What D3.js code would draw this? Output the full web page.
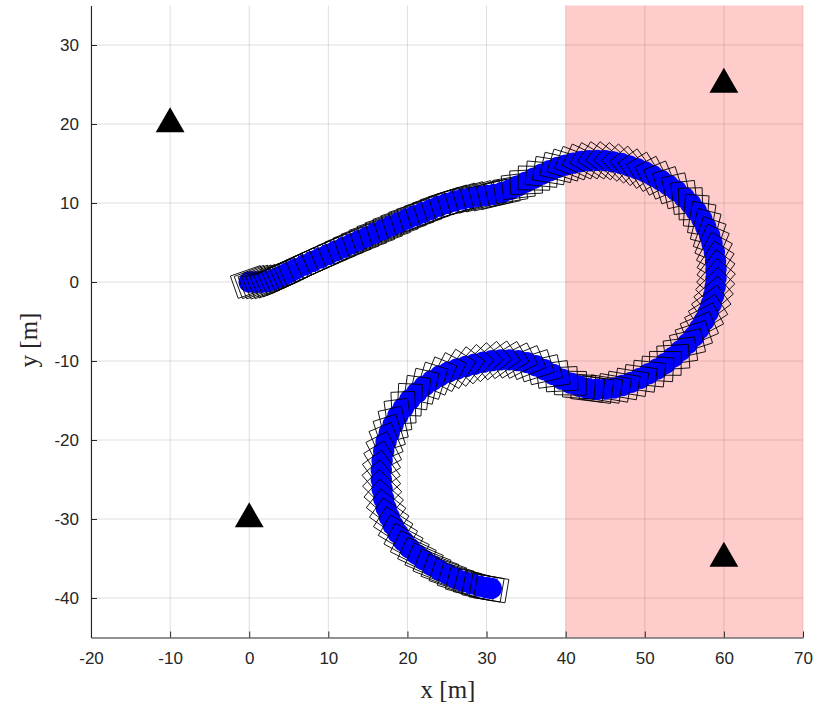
<!DOCTYPE html>
<html>
<head>
<meta charset="utf-8">
<script src="https://cdn.jsdelivr.net/npm/d3@7"></script>
<style>
  body { margin: 0; background: #fff; }
  svg { display: block; }
</style>
</head>
<body>
<div id="chart"></div>
<script>
// trajectory samples [x (m), y (m)]
var pathX = [0,0.5,1,1.5,2,2.5,3,3.5,4,4.5,5,5.5,6,7,8,9,10,11,12,13,14,15,16,17,18,19,20,21,22,23,24,25,26,27,28,29,30,31,32,33,34,35,36,37,38,39,40,41,42,43,44,45,46,47,48,49,50,51,52,53,54,55,55.8,56.5,57.2,57.7,58.2,58.5,58.8,58.95,59,59,58.9,58.7,58.4,58,57.5,56.9,56.2,55.4,54.5,53.6,52.6,51.6,50.5,49.4,48.3,47.2,46.1,45,43.9,42.8,41.7,40.6,39.5,38.4,37.3,36.2,35.1,34,32.9,31.8,30.7,29.6,28.5,27.4,26.3,25.2,24.1,23.1,22.1,21.2,20.3,19.5,18.8,18.2,17.7,17.3,17,16.8,16.7,16.7,16.8,17,17.3,17.7,18.2,18.8,19.5,20.3,21.2,22.1,23.1,24.1,25.1,26.1,27.1,28.1,29.1,30,30.6];
var pathY = [0,0,0,0,0.05,0.15,0.3,0.5,0.7,0.95,1.2,1.45,1.7,2.15,2.6,3.05,3.5,3.95,4.4,4.85,5.3,5.75,6.2,6.65,7.1,7.55,8,8.4,8.8,9.2,9.6,9.95,10.25,10.5,10.7,10.85,10.95,11.1,11.35,11.7,12.15,12.65,13.15,13.65,14.1,14.5,14.8,15.05,15.25,15.35,15.4,15.35,15.2,15,14.7,14.35,13.95,13.45,12.9,12.25,11.55,10.7,9.9,9,8,7,5.9,4.9,3.8,2.7,1.6,0.5,-0.6,-1.7,-2.8,-3.9,-4.9,-5.9,-6.9,-7.8,-8.7,-9.5,-10.3,-11,-11.6,-12.2,-12.7,-13.1,-13.4,-13.55,-13.6,-13.5,-13.2,-12.8,-12.3,-11.7,-11.1,-10.6,-10.2,-9.95,-9.85,-9.85,-9.95,-10.15,-10.4,-10.7,-11,-11.4,-11.9,-12.5,-13.2,-14,-14.9,-15.9,-16.9,-18,-19.1,-20.2,-21.4,-22.6,-23.8,-25,-26.2,-27.4,-28.6,-29.7,-30.8,-31.8,-32.8,-33.7,-34.5,-35.2,-35.9,-36.5,-37,-37.5,-37.9,-38.2,-38.5,-38.7,-38.8];

// landmarks (triangles)
var anchorX = [-10, 0, 60, 60];
var anchorY = [20, -30, 25, -35];

// shaded zone
var zoneX = [40, 70];

var xTicks = [-20,-10,0,10,20,30,40,50,60,70];
var yTicks = [-40,-30,-20,-10,0,10,20,30];

var W = 818, H = 712;
var margin = { left: 91, right: 15, top: 5.5, bottom: 74.5 };
var carLen = 4.0, carWid = 3.0, dotR = 1.35, look = 16;

var svg = d3.select('#chart').append('svg')
    .attr('width', W)
    .attr('height', H);

var x = d3.scaleLinear().domain([-20, 70]).range([margin.left, W - margin.right]);
var y = d3.scaleLinear().domain([-45, 35]).range([H - margin.bottom, margin.top]);

svg.append('clipPath').attr('id', 'clip')
    .append('rect')
    .attr('x', x(-20)).attr('y', y(35))
    .attr('width', x(70) - x(-20)).attr('height', y(-45) - y(35));

// grid
var grid = svg.append('g');
grid.selectAll('.gx').data(xTicks).join('line')
    .attr('x1', d => x(d)).attr('x2', d => x(d))
    .attr('y1', y(-45)).attr('y2', y(35))
    .attr('stroke', 'rgba(38,38,38,0.15)').attr('stroke-width', 1);
grid.selectAll('.gy').data(yTicks).join('line')
    .attr('y1', d => y(d)).attr('y2', d => y(d))
    .attr('x1', x(-20)).attr('x2', x(70))
    .attr('stroke', 'rgba(38,38,38,0.15)').attr('stroke-width', 1);

// red zone
svg.append('rect')
    .attr('x', x(zoneX[0])).attr('y', y(35))
    .attr('width', x(zoneX[1]) - x(zoneX[0]))
    .attr('height', y(-45) - y(35))
    .attr('fill', 'rgb(255,0,0)').attr('fill-opacity', 0.2);

// trajectory: footprint + dot at each sample
var pts = pathX.map((d, i) => ({ x: d, y: pathY[i] }));
var n = pts.length;
pts.forEach(function(p, i) {
    var j = Math.min(i + look, n - 1);
    if (j === i) p.a = Math.atan2(p.y - pts[i - 1].y, p.x - pts[i - 1].x);
    else p.a = Math.atan2(pts[j].y - p.y, pts[j].x - p.x);
});

function footprint(p) {
    var c = Math.cos(p.a), s = Math.sin(p.a);
    var hl = carLen / 2, hw = carWid / 2;
    var corners = [[hl, hw], [-hl, hw], [-hl, -hw], [hl, -hw]];
    return corners.map(function(k) {
        return [x(p.x + k[0] * c - k[1] * s), y(p.y + k[0] * s + k[1] * c)];
    });
}

var traj = svg.append('g').attr('clip-path', 'url(#clip)');
var poses = traj.selectAll('g.pose').data(pts).join('g').attr('class', 'pose');
poses.append('polygon')
    .attr('points', d => footprint(d).map(q => q.join(',')).join(' '))
    .attr('fill', 'none')
    .attr('stroke', '#000')
    .attr('stroke-width', 0.9);
poses.append('ellipse')
    .attr('cx', d => x(d.x)).attr('cy', d => y(d.y))
    .attr('rx', x(dotR) - x(0)).attr('ry', y(0) - y(dotR))
    .attr('fill', '#0000ff');

// landmarks
var tri = d3.symbol().type(d3.symbolTriangle).size(360);
svg.selectAll('.anchor').data(anchorX).join('path')
    .attr('d', tri)
    .attr('transform', (d, i) => 'translate(' + x(d) + ',' + y(anchorY[i]) + ')')
    .attr('fill', '#000');

// axes (ticks inside, MATLAB style)
var axisColor = '#262626';
var gx = svg.append('g')
    .attr('transform', 'translate(0,' + y(-45) + ')')
    .call(d3.axisBottom(x).tickValues(xTicks).tickFormat(d => String(d))
        .tickSizeInner(-6).tickSizeOuter(0).tickPadding(14));
var gy = svg.append('g')
    .attr('transform', 'translate(' + x(-20) + ',0)')
    .call(d3.axisLeft(y).tickValues(yTicks).tickFormat(d => String(d))
        .tickSizeInner(-6).tickSizeOuter(0).tickPadding(12));
[gx, gy].forEach(function(g) {
    g.select('.domain').attr('stroke', axisColor).attr('stroke-width', 1.1);
    g.selectAll('.tick line').attr('stroke', axisColor);
    g.selectAll('.tick text')
        .attr('fill', axisColor)
        .style('font-family', "'Liberation Sans', Arial, sans-serif")
        .style('font-size', '17px');
});

// axis labels
svg.append('text')
    .attr('x', 448).attr('y', 698)
    .attr('text-anchor', 'middle')
    .style('font-family', "'Liberation Serif', 'Times New Roman', serif")
    .style('font-size', '25px')
    .attr('fill', axisColor)
    .text('x [m]');
svg.append('text')
    .attr('transform', 'translate(37,340) rotate(-90)')
    .attr('text-anchor', 'middle')
    .style('font-family', "'Liberation Serif', 'Times New Roman', serif")
    .style('font-size', '25px')
    .attr('fill', axisColor)
    .text('y [m]');
</script>
</body>
</html>
